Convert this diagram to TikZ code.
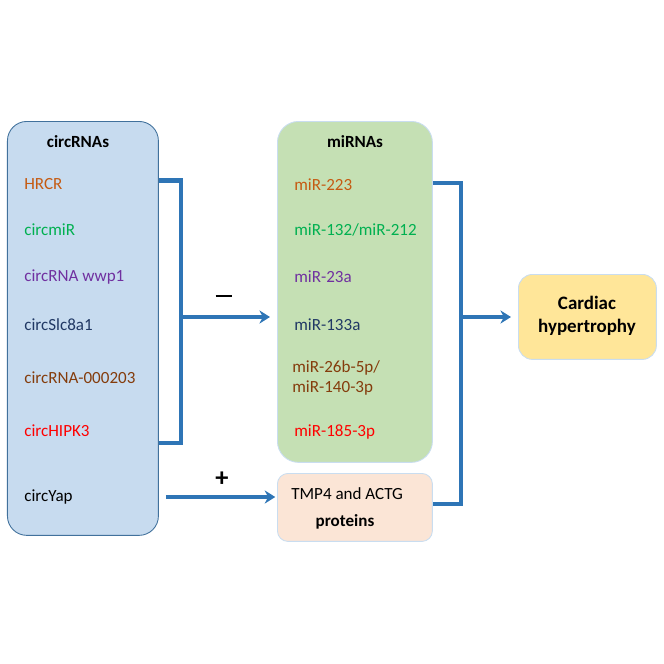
\documentclass[tikz,border=0pt]{standalone}
\usepackage{fontspec}
\setmainfont{Carlito}
\usetikzlibrary{arrows.meta,positioning}
\definecolor{circFill}{HTML}{C7DBEF}
\definecolor{circLine}{HTML}{41719C}
\definecolor{mirFill}{HTML}{C5E0B4}
\definecolor{protFill}{HTML}{FBE5D6}
\definecolor{cardFill}{HTML}{FFE699}
\definecolor{softLine}{HTML}{C9DDF0}
\definecolor{linkBlue}{HTML}{2E75B6}
\definecolor{txtOrange}{HTML}{C55A11}
\definecolor{txtGreen}{HTML}{00B050}
\definecolor{txtPurple}{HTML}{7030A0}
\definecolor{txtNavy}{HTML}{203864}
\definecolor{txtBrown}{HTML}{843C0C}
\definecolor{txtRed}{HTML}{FF0000}

\begin{document}
\begin{tikzpicture}[
  x=0.02cm, y=-0.02cm,
  font=\fontsize{9.7}{11.6}\selectfont,
  panel/.style={anchor=north west, inner sep=0pt, line width=0.5pt},
  entry/.style={anchor=west, inner sep=0pt, align=left},
  head/.style={inner sep=0pt, font=\fontsize{9.7}{11.6}\selectfont\bfseries},
  link/.style={draw=linkBlue, line width=2.3pt},
  arr/.style={link, -{Stealth[length=6pt,width=7.5pt]}},
  sign/.style={inner sep=0pt, font=\fontsize{15}{17}\selectfont\bfseries}
]
\useasboundingbox (0,0) rectangle (664,664);

% boxes
\node[panel, draw=circLine, fill=circFill, rounded corners=11pt,
      minimum width=3.02cm, minimum height=8.28cm] (circ) at (7,121) {};
\node[panel, draw=softLine, fill=mirFill, rounded corners=12pt,
      minimum width=3.1cm, minimum height=6.82cm] (mir) at (277,121) {};
\node[panel, draw=softLine, fill=protFill, rounded corners=6pt,
      minimum width=3.1cm, minimum height=1.36cm] (prot) at (277,473) {};
\node[panel, draw=softLine, fill=cardFill, rounded corners=8pt,
      minimum width=2.76cm, minimum height=1.7cm] (card) at (518,274) {};

% circRNAs
\node[head] (circhead) at (78,142) {circRNAs};
\node[entry, text=txtOrange] (hrcr) at (24,184) {HRCR};
\node[entry, text=txtGreen] (circmir) at (24,230) {circmiR};
\node[entry, text=txtPurple] (wwp) at (24,277) {circRNA wwp1};
\node[entry, text=txtNavy] (slc) at (24,325) {circSlc8a1};
\node[entry, text=txtBrown] (c203) at (24,378) {circRNA-000203};
\node[entry, text=txtRed] (hipk) at (24,431) {circHIPK3};
\node[entry] (yap) at (24,497) {circYap};

% miRNAs
\node[head] (mirhead) at (355,142) {miRNAs};
\node[entry, text=txtOrange] (m223) at (294,185) {miR-223};
\node[entry, text=txtGreen] (m132) at (294,230) {miR-132/miR-212};
\node[entry, text=txtPurple] (m23a) at (294,277) {miR-23a};
\node[entry, text=txtNavy] (m133) at (294,325) {miR-133a};
\node[entry, text=txtBrown] (m26b) at (292,378) {miR-26b-5p/\\miR-140-3p};
\node[entry, text=txtRed] (m185) at (294,432) {miR-185-3p};

% proteins
\node[entry] (tmp) at (291,494) {TMP4 and ACTG};
\node[head] (protxt) at (345,522) {proteins};

\node[align=center, inner sep=0pt,
      font=\fontsize{10.8}{13}\selectfont\bfseries] (cardtxt) at (587,316)
  {Cardiac\\hypertrophy};

% signs
\node[sign] (minus) at (224,296) {\rule{9.5pt}{1.7pt}};
\node[sign] (plus) at (222,479) {+};

% connectors
\coordinate (jL) at (181,317);
\coordinate (jR) at (461,317);
\draw[link] ([yshift=2pt]circ.east |- hrcr) -| (jL) |- ([yshift=-7pt]circ.east |- hipk);
\draw[arr, shorten >=4pt] (jL) -- (jL -| mir.west);
\draw[arr, shorten <=4pt, shorten >=1pt] (circ.east |- yap) -- (prot.west |- yap);
\draw[link] ([yshift=1pt]mir.east |- m223) -| (jR) |- ([yshift=2pt]prot.east);
\draw[arr, shorten >=4pt] (jR) -- (jR -| card.west);
\end{tikzpicture}
\end{document}
